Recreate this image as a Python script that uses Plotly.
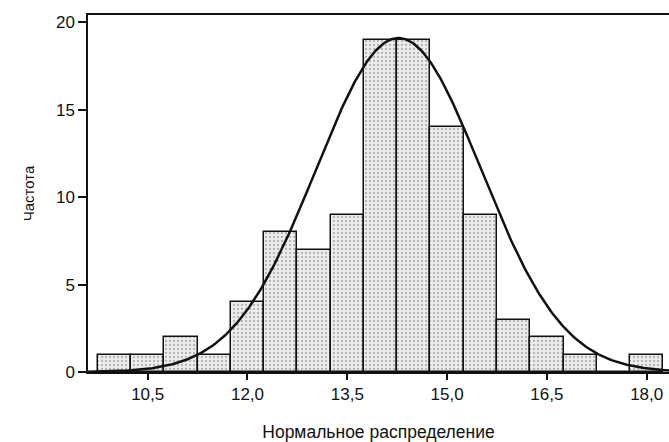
import numpy as np
import plotly.graph_objects as go

# Histogram bins (centres) and frequencies
bin_centers = [10.0, 10.5, 11.0, 11.5, 12.0, 12.5, 13.0, 13.5, 14.0,
               14.5, 15.0, 15.5, 16.0, 16.5, 17.0, 17.5, 18.0]
frequencies = [1, 1, 2, 1, 4, 8, 7, 9, 19, 19, 14, 9, 3, 2, 1, 0, 1]
bin_width = 0.5

# Fitted normal curve parameters
curve_mean = 14.27
curve_sd = 1.24
curve_peak = 19.1

x_ticks = [10.5, 12.0, 13.5, 15.0, 16.5, 18.0]
y_ticks = [0, 5, 10, 15, 20]

x_range = [9.603, 18.335]
y_range = [0, 20.42]

xc = np.linspace(x_range[0], x_range[1], 400)
yc = curve_peak * np.exp(-((xc - curve_mean) ** 2) / (2 * curve_sd ** 2))

fig = go.Figure()
fig.add_trace(go.Bar(
    x=bin_centers, y=frequencies, width=bin_width,
    marker=dict(
        color="#ededed",
        line=dict(color="#111111", width=1.5),
        pattern=dict(shape=".", fgcolor="#777777", bgcolor="#ededed",
                     size=4, solidity=0.25),
    ),
    showlegend=False,
))
fig.add_trace(go.Scatter(
    x=xc, y=yc, mode="lines",
    line=dict(color="#111111", width=2.5),
    showlegend=False, cliponaxis=True,
))

font_family = "Liberation Sans, Arial, sans-serif"
fig.update_layout(
    width=669, height=442,
    margin=dict(l=88, r=0, t=15, b=70),
    paper_bgcolor="white", plot_bgcolor="white",
    separators=", ",
    bargap=0,
    font=dict(family=font_family, size=16, color="#111111"),
    xaxis=dict(
        range=x_range, tickvals=x_ticks, tickformat=".1f",
        showgrid=False, zeroline=False,
        showline=True, linecolor="#111111", linewidth=1.5, mirror=True,
        ticks="outside", ticklen=6, tickcolor="#111111", tickwidth=1.5,
        tickfont=dict(size=17),
        title=dict(text="Нормальное распределение", font=dict(size=17.5), standoff=26),
    ),
    yaxis=dict(
        range=y_range, tickvals=y_ticks,
        showgrid=False, zeroline=False,
        showline=True, linecolor="#111111", linewidth=1.5,
        ticks="outside", ticklen=8, tickcolor="#111111", tickwidth=1.5,
        tickfont=dict(size=17),
        title=dict(text="Частота", font=dict(size=15), standoff=18),
    ),
)

fig.write_html("out.html")
